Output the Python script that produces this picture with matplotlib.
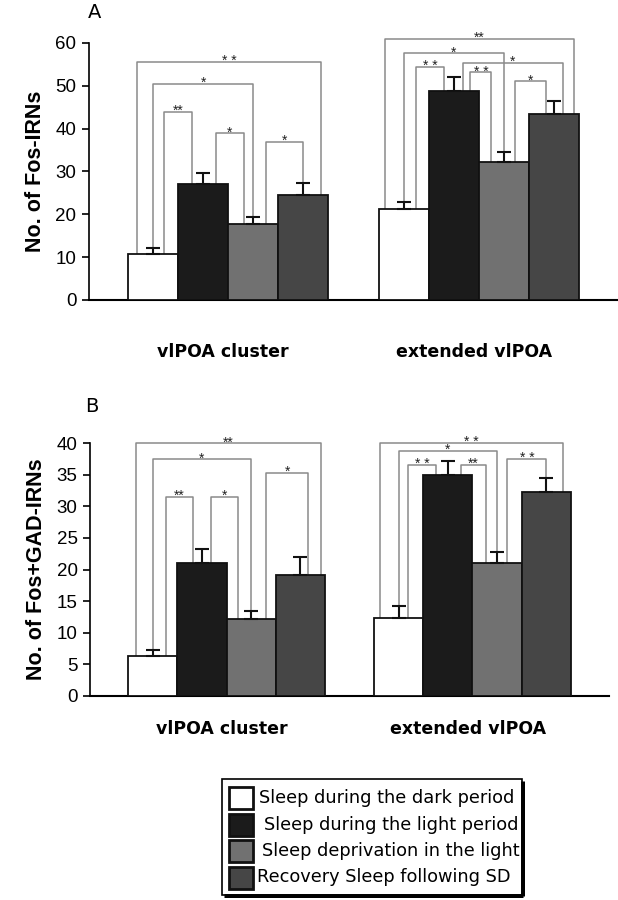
import matplotlib.pyplot as plt
import numpy as np
from matplotlib.patches import Rectangle

plt.rcParams['font.family'] = ['Liberation Sans', 'DejaVu Sans']

groups = ['vlPOA cluster', 'extended vlPOA']
conditions = ['Sleep during the dark period', 'Sleep during the light period',
              'Sleep deprivation in the light', 'Recovery Sleep following SD']
colors = ['white', '#1b1b1b', '#717171', '#464646']

# panel A: Fos-IRNs (rows = group, cols = condition)
fos_mean = [[10.7, 27.0, 17.7, 24.5],
            [21.2, 48.8, 32.2, 43.5]]
fos_err = [[1.4, 2.6, 1.7, 2.8],
           [1.7, 3.3, 2.4, 3.0]]

# panel B: Fos+GAD-IRNs
gad_mean = [[6.4, 21.0, 12.2, 19.1],
            [12.4, 35.0, 21.0, 32.3]]
gad_err = [[0.9, 2.3, 1.2, 2.9],
           [1.8, 2.2, 1.7, 2.2]]

# brackets: (group, bar i, bar j, height, stars)
fos_brackets = [(0, 0, 3, 55.6, '* *'), (0, 0, 2, 50.5, '*'), (0, 0, 1, 44.0, '**'),
                (0, 1, 2, 39.0, '*'), (0, 2, 3, 37.0, '*'),
                (1, 0, 3, 61.0, '**'), (1, 0, 2, 57.7, '*'), (1, 0, 1, 54.4, '* *'),
                (1, 1, 3, 55.4, '*'), (1, 1, 2, 53.2, '* *'), (1, 2, 3, 51.1, '*')]
gad_brackets = [(0, 0, 3, 40.0, '**'), (0, 0, 2, 37.5, '*'), (0, 0, 1, 31.5, '**'),
                (0, 1, 2, 31.5, '*'), (0, 2, 3, 35.3, '*'),
                (1, 0, 3, 40.0, '* *'), (1, 0, 2, 38.8, '*'), (1, 0, 1, 36.6, '* *'),
                (1, 1, 2, 36.6, '**'), (1, 2, 3, 37.5, '* *')]
# leg offsets (fraction of bar width from bar centre), 0 -> leg lands on error cap
fos_legs = [(-0.31, 0.35), (0, 0), (0.22, -0.22), (0.25, -0.19), (0.26, 0),
            (-0.37, 0.39), (0, 0), (0.25, -0.2), (0.18, 0.18), (0.33, -0.25), (0.23, -0.16)]
gad_legs = [(-0.35, 0.42), (0, 0), (0.27, -0.19), (0.19, -0.26), (0.3, 0.16),
            (-0.39, 0.35), (0, 0), (0.19, -0.24), (0.26, -0.23), (0.21, 0)]

W = 0.2
offs = np.array([-1.5, -0.5, 0.5, 1.5]) * W

fig = plt.figure(figsize=(6.18, 9.0), dpi=100)


def panel(ax, mean, err, brackets, legs, ymax, step, ylabel, label_drop):
    mean = np.array(mean)
    err = np.array(err)
    for g in range(2):
        x = g + offs
        ax.bar(x, mean[g], W, color=colors, edgecolor='#111111', linewidth=1.3, zorder=3)
        ax.errorbar(x, mean[g], yerr=[np.zeros(4), err[g]], fmt='none', ecolor='#111111',
                    elinewidth=1.5, capsize=5, capthick=1.5, zorder=4)
    for (g, i, j, h, s), (li, lj) in zip(brackets, legs):
        xs = []
        ys = []
        for b, o in ((i, li), (j, lj)):
            xs.append(g + offs[b] + o * W)
            ys.append(mean[g][b] + (err[g][b] if o == 0 else 0))
        ax.plot([xs[0], xs[0], xs[1], xs[1]], [ys[0], h, h, ys[1]], color='#8a8a8a',
                lw=1.1, clip_on=False, zorder=2)
        ax.annotate(s, ((xs[0] + xs[1]) / 2, h), xytext=(0, -2.5), textcoords='offset points',
                    ha='center', va='baseline', fontsize=10, color='#222222',
                    annotation_clip=False)
    ax.set_xlim(-0.555, 1.555)
    ax.set_ylim(0, ymax)
    ax.set_yticks(np.arange(0, ymax + 0.1, step))
    ax.set_xticks([])
    ax.spines['top'].set_visible(False)
    ax.spines['right'].set_visible(False)
    ax.spines['left'].set_linewidth(1.2)
    ax.spines['bottom'].set_linewidth(1.5)
    ax.tick_params(axis='y', labelsize=13.5, length=5, width=1.2, pad=4)
    ax.set_ylabel(ylabel, fontsize=15.5, fontweight='bold', labelpad=7)
    for g in range(2):
        ax.annotate(groups[g], (g - 0.02, 0), xytext=(0, -label_drop),
                    textcoords='offset pixels', ha='center', va='center',
                    fontsize=12.5, fontweight='bold', family=['DejaVu Sans'],
                    annotation_clip=False)


axA = fig.add_axes([89 / 618, 1 - 300 / 900, 529 / 618, 257 / 900])
panel(axA, fos_mean, fos_err, fos_brackets, fos_legs, 60, 10, 'No. of Fos-IRNs', 52)
axB = fig.add_axes([90 / 618, 1 - 696 / 900, 519 / 618, 253 / 900])
panel(axB, gad_mean, gad_err, gad_brackets, gad_legs, 40, 5, 'No. of Fos+GAD-IRNs', 33)

fig.text(88 / 618, 1 - 12 / 900, 'A', fontsize=14, ha='left', va='center', family=['DejaVu Sans'])
fig.text(85 / 618, 1 - 406 / 900, 'B', fontsize=14, ha='left', va='center', family=['DejaVu Sans'])

# legend box
axL = fig.add_axes([221 / 618, 1 - 898 / 900, 304 / 618, 120 / 900])
axL.set_xlim(0, 304)
axL.set_ylim(120, 0)
axL.axis('off')
axL.add_patch(Rectangle((1, 1), 300, 116, fill=False, ec='black', lw=1.2))
axL.plot([302, 302], [3, 118], color='black', lw=3.5, solid_capstyle='butt')
axL.plot([3, 302], [118, 118], color='black', lw=3.5, solid_capstyle='butt')
text_x = [38, 43, 41, 36]
for k, lab in enumerate(conditions):
    yc = 20 + k * 26.5
    axL.add_patch(Rectangle((8, yc - 11), 24, 22, fc=colors[k], ec='#111111', lw=2))
    axL.text(text_x[k], yc, lab, ha='left', va='center', fontsize=12.8, family=['DejaVu Sans'])

fig.savefig('out.png', dpi=100)
